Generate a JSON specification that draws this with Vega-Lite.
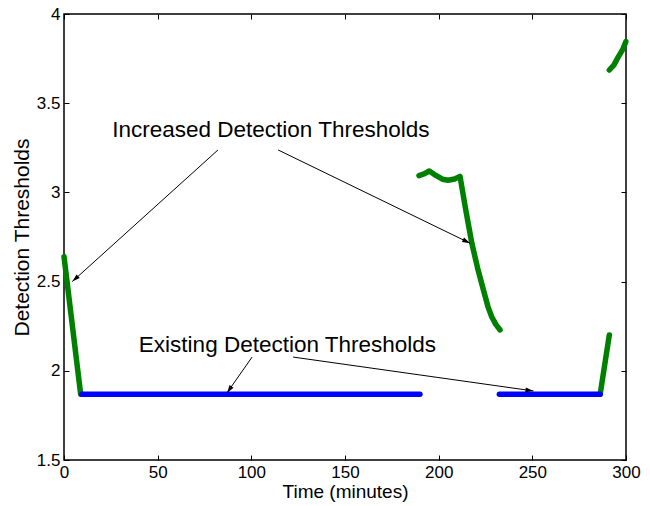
{
  "$schema": "https://vega.github.io/schema/vega-lite/v6.json",
  "autosize": {"type": "none"},
  "width": 562,
  "height": 446,
  "padding": {"left": 64, "top": 14, "right": 24, "bottom": 46},
  "background": "white",
  "config": {
    "font": "Liberation Sans",
    "view": {"stroke": "black", "strokeWidth": 1.5},
    "axis": {
      "domain": false,
      "grid": false,
      "offset": -5,
      "tickColor": "black",
      "tickSize": 5,
      "tickWidth": 1,
      "labelFlush": false,
      "labelOverlap": false,
      "labelColor": "black",
      "labelFont": "Liberation Sans",
      "labelFontSize": 17,
      "titleFont": "Liberation Sans",
      "titleFontSize": 19,
      "titleFontWeight": "normal",
      "titleColor": "black"
    }
  },
  "resolve": {"axis": {"x": "independent", "y": "independent"}},
  "datasets": {
    "lines": [
      {"t": 0, "v": 2.64, "seg": "g1", "kind": "Increased"},
      {"t": 8.9, "v": 1.868, "seg": "g1", "kind": "Increased"},
      {"t": 189.5, "v": 3.094, "seg": "g2", "kind": "Increased"},
      {"t": 192.5, "v": 3.105, "seg": "g2", "kind": "Increased"},
      {"t": 195, "v": 3.12, "seg": "g2", "kind": "Increased"},
      {"t": 198.5, "v": 3.095, "seg": "g2", "kind": "Increased"},
      {"t": 202, "v": 3.074, "seg": "g2", "kind": "Increased"},
      {"t": 205, "v": 3.068, "seg": "g2", "kind": "Increased"},
      {"t": 208.5, "v": 3.075, "seg": "g2", "kind": "Increased"},
      {"t": 211.4, "v": 3.09, "seg": "g2", "kind": "Increased"},
      {"t": 214.5, "v": 2.9, "seg": "g2", "kind": "Increased"},
      {"t": 217.7, "v": 2.715, "seg": "g2", "kind": "Increased"},
      {"t": 220.8, "v": 2.575, "seg": "g2", "kind": "Increased"},
      {"t": 223.9, "v": 2.453, "seg": "g2", "kind": "Increased"},
      {"t": 226.3, "v": 2.36, "seg": "g2", "kind": "Increased"},
      {"t": 228.3, "v": 2.303, "seg": "g2", "kind": "Increased"},
      {"t": 230.5, "v": 2.26, "seg": "g2", "kind": "Increased"},
      {"t": 232.8, "v": 2.229, "seg": "g2", "kind": "Increased"},
      {"t": 286.2, "v": 1.868, "seg": "g3", "kind": "Increased"},
      {"t": 291.1, "v": 2.201, "seg": "g3", "kind": "Increased"},
      {"t": 291.1, "v": 3.686, "seg": "g4", "kind": "Increased"},
      {"t": 293.6, "v": 3.715, "seg": "g4", "kind": "Increased"},
      {"t": 295.9, "v": 3.76, "seg": "g4", "kind": "Increased"},
      {"t": 298.2, "v": 3.8, "seg": "g4", "kind": "Increased"},
      {"t": 299.9, "v": 3.845, "seg": "g4", "kind": "Increased"},
      {"t": 9.5, "v": 1.868, "seg": "b1", "kind": "Existing"},
      {"t": 190, "v": 1.868, "seg": "b1", "kind": "Existing"},
      {"t": 232.4, "v": 1.868, "seg": "b2", "kind": "Existing"},
      {"t": 286.2, "v": 1.868, "seg": "b2", "kind": "Existing"}
    ],
    "labels": [
      {"t": 110.4, "v": 3.312, "label": "Increased Detection Thresholds"},
      {"t": 119.3, "v": 2.107, "label": "Existing Detection Thresholds"}
    ],
    "arrows": [
      {"t": 82.2, "v": 3.238, "t2": 4.4, "v2": 2.5, "dir": 228},
      {"t": 114.3, "v": 3.238, "t2": 216.8, "v2": 2.715, "dir": 116},
      {"t": 100.4, "v": 2.077, "t2": 87.0, "v2": 1.876, "dir": 215},
      {"t": 122.3, "v": 2.077, "t2": 250.6, "v2": 1.887, "dir": 98}
    ]
  },
  "layer": [
    {
      "data": {"name": "lines"},
      "mark": {"type": "line", "strokeWidth": 5.5, "strokeCap": "round", "strokeJoin": "round"},
      "encoding": {
        "x": {"field": "t", "type": "quantitative", "scale": {"domain": [0, 300], "nice": false},
              "axis": {"orient": "bottom", "values": [0, 50, 100, 150, 200, 250, 300], "format": "d", "title": "Time (minutes)", "labelPadding": 4, "titlePadding": 2}},
        "y": {"field": "v", "type": "quantitative", "scale": {"domain": [1.5, 4], "nice": false, "zero": false},
              "axis": {"orient": "left", "values": [1.5, 2, 2.5, 3, 3.5, 4], "format": "~r", "title": "Detection Thresholds", "titleFontSize": 21, "labelPadding": 4, "titlePadding": 4}},
        "detail": {"field": "seg"},
        "color": {"field": "kind", "type": "nominal", "scale": {"domain": ["Increased", "Existing"], "range": ["#008000", "#0000ff"]}, "legend": null}
      }
    },
    {
      "data": {"name": "arrows"},
      "mark": {"type": "rule", "color": "black", "strokeWidth": 1},
      "encoding": {
        "x": {"field": "t", "type": "quantitative",
              "axis": {"orient": "top", "values": [0, 50, 100, 150, 200, 250, 300], "labels": false, "title": null}},
        "y": {"field": "v", "type": "quantitative",
              "axis": {"orient": "right", "values": [1.5, 2, 2.5, 3, 3.5, 4], "labels": false, "title": null}},
        "x2": {"field": "t2"},
        "y2": {"field": "v2"}
      }
    },
    {
      "data": {"name": "arrows"},
      "mark": {"type": "point", "filled": true, "color": "black", "opacity": 1, "size": 64, "shape": "M0,0L-0.6,2L0.6,2Z"},
      "encoding": {
        "x": {"field": "t2", "type": "quantitative", "axis": null},
        "y": {"field": "v2", "type": "quantitative", "axis": null},
        "angle": {"field": "dir", "type": "quantitative", "scale": null}
      }
    },
    {
      "data": {"name": "labels"},
      "mark": {"type": "text", "font": "Liberation Sans", "fontSize": 22.5, "align": "center", "baseline": "alphabetic", "color": "black"},
      "encoding": {
        "x": {"field": "t", "type": "quantitative", "axis": null},
        "y": {"field": "v", "type": "quantitative", "axis": null},
        "text": {"field": "label"}
      }
    }
  ]
}
